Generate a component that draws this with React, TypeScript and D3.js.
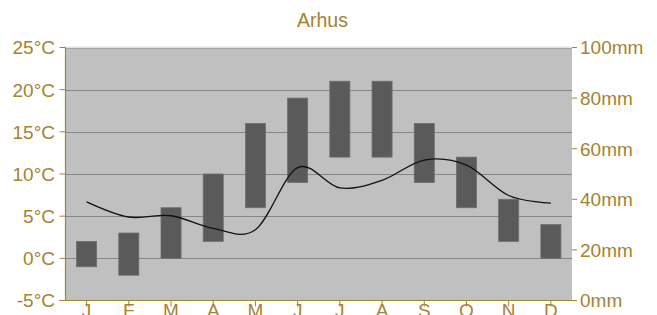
import React from "react";
import * as d3 from "d3";

const months = ["J", "F", "M", "A", "M", "J", "J", "A", "S", "O", "N", "D"];
const tempMin = [-1, -2, 0, 2, 6, 9, 12, 12, 9, 6, 2, 0];
const tempMax = [2, 3, 6, 10, 16, 19, 21, 21, 16, 12, 7, 4];
const precip = [39, 33, 33.5, 28.5, 28, 52.5, 44.5, 47.5, 55.5, 53.5, 41.5, 38.5];
const tempTicks = [-5, 0, 5, 10, 15, 20, 25];
const precipTicks = [0, 20, 40, 60, 80, 100];
const title = "Arhus";

const W = 657;
const H = 315;
const left = 65.5;
const right = 572;
const top = 47.5;
const bottom = 300.5;
const gold = "#a5832f";
const font = "'Liberation Sans', Arial, Helvetica, sans-serif";

export default function App() {
  const x = d3.scaleBand<number>().domain(d3.range(months.length)).range([left, right]).padding(0);
  const yT = d3.scaleLinear().domain([-5, 25]).range([bottom, top]);
  const yP = d3.scaleLinear().domain([0, 100]).range([bottom, top]);
  const bw = x.bandwidth() * 0.475;
  const cx = (i: number) => (x(i) as number) + x.bandwidth() / 2;

  const line = d3
    .line<number>()
    .x((_, i) => cx(i))
    .y((d) => yP(d))
    .curve(d3.curveCatmullRom.alpha(0));

  return (
    <svg width={W} height={H} style={{ position: "absolute", left: 0, top: 0, display: "block" }} fontFamily={font}>
      <rect x={0} y={0} width={W} height={H} fill="#ffffff" />
      <text x={322.5} y={26.5} textAnchor="middle" fontSize={19.5} fill={gold}>
        {title}
      </text>
      <rect x={left} y={top} width={right - left} height={bottom - top} fill="#c0c0c0" />
      <line x1={left} x2={right} y1={top - 0.5} y2={top - 0.5} stroke="#e2e2e2" strokeWidth={1} />
      {tempTicks.map((t) => (
        <line key={"g" + t} x1={left} x2={right} y1={Math.round(yT(t)) + 0.5} y2={Math.round(yT(t)) + 0.5}
          stroke={t === 25 ? "#a4a4a4" : "#868686"} strokeWidth={t === -5 ? 0 : 1} />
      ))}
      {months.map((m, i) => (
        <rect key={"b" + i} x={cx(i) - bw / 2} y={yT(tempMax[i])} width={bw}
          height={yT(tempMin[i]) - yT(tempMax[i])} fill="#5a5a5a" stroke="#6e6e6e" strokeWidth={0.8} />
      ))}
      <path d={line(precip) || ""} fill="none" stroke="#111111" strokeWidth={1.3} />
      {/* left axis */}
      <line x1={left} x2={left} y1={top} y2={bottom} stroke={gold} strokeWidth={1.2} />
      {tempTicks.map((t) => (
        <g key={"lt" + t}>
          <line x1={left - 6} x2={left} y1={yT(t)} y2={yT(t)} stroke={gold} strokeWidth={1} />
          <text x={55} y={yT(t)} dy="0.36em" textAnchor="end" fontSize={19} fill={gold}>
            {t + "°C"}
          </text>
        </g>
      ))}
      {/* bottom axis */}
      <line x1={left - 6} x2={right + 5} y1={bottom} y2={bottom} stroke={gold} strokeWidth={1.2} />
      {months.map((m, i) => (
        <g key={"bt" + i}>
          <line x1={cx(i)} x2={cx(i)} y1={bottom} y2={bottom + 6} stroke={gold} strokeWidth={1} />
          <text x={cx(i)} y={317} textAnchor="middle" fontSize={19} fill={gold}>
            {m}
          </text>
        </g>
      ))}
      {/* right axis */}
      {precipTicks.map((p) => (
        <g key={"rt" + p}>
          <line x1={right} x2={right + 5} y1={yP(p)} y2={yP(p)} stroke={gold} strokeWidth={1} />
          <text x={580} y={yP(p)} dy="0.36em" textAnchor="start" fontSize={19} fill={gold}>
            {p + "mm"}
          </text>
        </g>
      ))}
    </svg>
  );
}
